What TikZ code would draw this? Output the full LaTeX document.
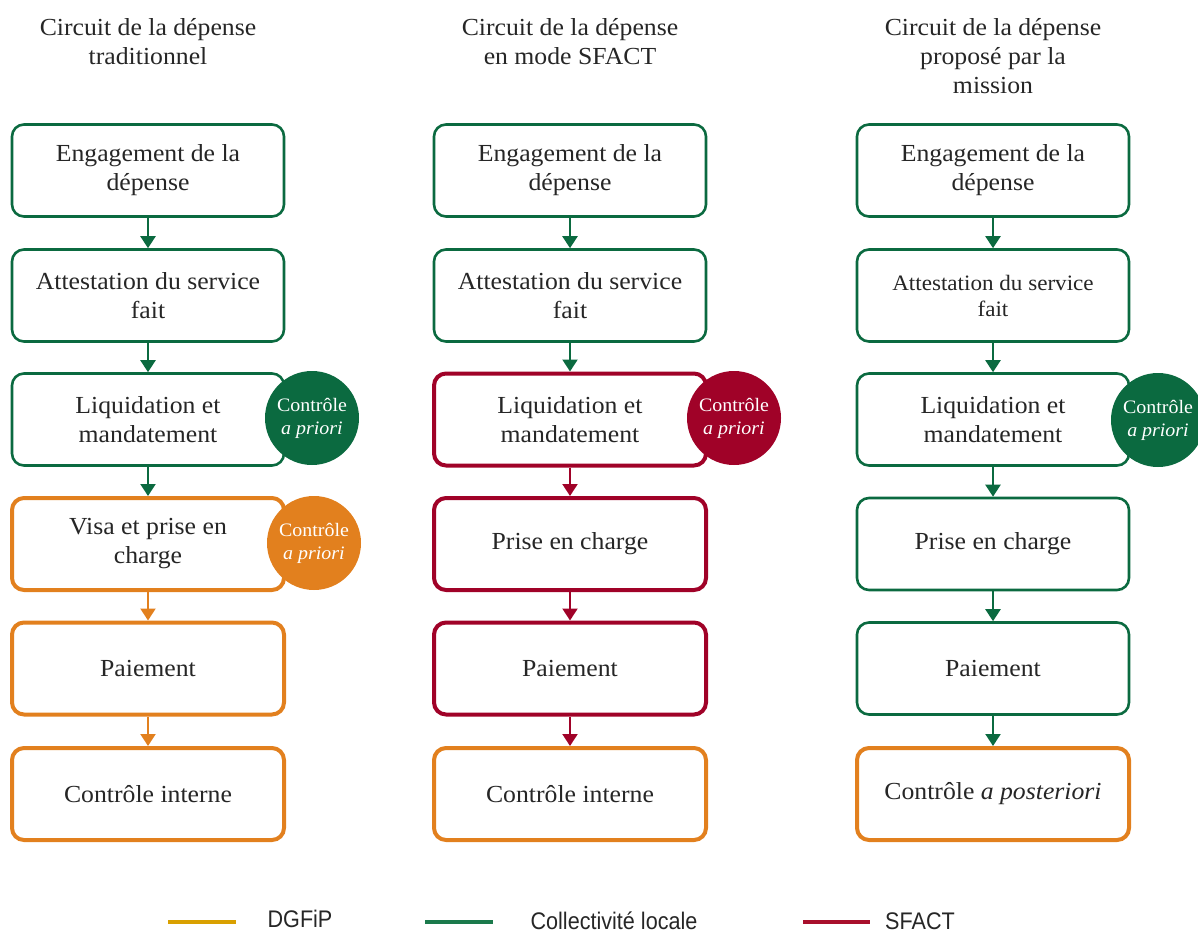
\documentclass[tikz,border=0pt]{standalone}
\usepackage{fontspec}
\setmainfont[FakeStretch=1.05]{Liberation Serif}
\newfontfamily\legfont[FakeStretch=0.9]{Liberation Sans}
\usetikzlibrary{arrows.meta}
\definecolor{cgreen}{HTML}{0B6A40}
\definecolor{corange}{HTML}{E2801E}
\definecolor{cred}{HTML}{A00228}
\definecolor{lgold}{HTML}{D9A000}
\definecolor{lgreen}{HTML}{1B7A4C}
\definecolor{lred}{HTML}{A80F2C}
\definecolor{ctext}{HTML}{262626}
\tikzset{
  boxbase/.style={draw, rounded corners=12pt, minimum width=272pt, minimum height=92pt, fill=white, align=center, font=\fontsize{24.5}{29}\selectfont, text=ctext},
  gbox/.style={boxbase, draw=cgreen, line width=2.6pt},
  obox/.style={boxbase, draw=corange, line width=4pt},
  rbox/.style={boxbase, draw=cred, line width=4pt},
  ctl/.style={circle, minimum size=94pt, inner sep=0pt, align=center, text=white, font=\fontsize{19}{23}\selectfont},
  title/.style={align=center, font=\fontsize{24.5}{29}\selectfont, text=ctext},
  arr/.style={line width=2.2pt, -{Triangle[length=12pt,width=15pt]}},
  leg/.style={line width=3.5pt},
  legtext/.style={font=\legfont\fontsize{24}{28}\selectfont, text=ctext, inner sep=1pt}
}
\begin{document}
\begin{tikzpicture}[x=1pt,y=-1pt]
\useasboundingbox (0,0) rectangle (1198,936);
% titles
\node[title] (t1) at (148,42) {Circuit de la dépense\\traditionnel};
\node[title] (t2) at (570,42) {Circuit de la dépense\\en mode SFACT};
\node[title] (t3) at (993,56) {Circuit de la dépense\\proposé par la\\mission};
% column 1
\node[gbox] (a1) at (148,170.5) {Engagement de la\\dépense};
\node[gbox] (a2) at (148,295.5) {Attestation du service\\fait};
\node[gbox] (a3) at (148,419.5) {Liquidation et\\mandatement};
\node[obox] (a4) at (148,544) {Visa et prise en\\charge};
\node[obox] (a5) at (148,668.5) {Paiement};
\node[obox] (a6) at (148,794) {Contrôle interne};
\node[ctl, fill=cgreen] (ca3) at (312,418) {Contrôle\\\textit{a priori}};
\node[ctl, fill=corange] (ca4) at (314,543) {Contrôle\\\textit{a priori}};
\draw[arr, cgreen] (a1) -- (a2);
\draw[arr, cgreen] (a2) -- (a3);
\draw[arr, cgreen] (a3) -- (a4);
\draw[arr, corange] (a4) -- (a5);
\draw[arr, corange] (a5) -- (a6);
% column 2
\node[gbox] (b1) at (570,170.5) {Engagement de la\\dépense};
\node[gbox] (b2) at (570,295.5) {Attestation du service\\fait};
\node[rbox] (b3) at (570,419.5) {Liquidation et\\mandatement};
\node[rbox] (b4) at (570,544) {Prise en charge};
\node[rbox] (b5) at (570,668.5) {Paiement};
\node[obox] (b6) at (570,794) {Contrôle interne};
\node[ctl, fill=cred] (cb3) at (734,418) {Contrôle\\\textit{a priori}};
\draw[arr, cgreen] (b1) -- (b2);
\draw[arr, cgreen] (b2) -- (b3);
\draw[arr, cred] (b3) -- (b4);
\draw[arr, cred] (b4) -- (b5);
\draw[arr, cred] (b5) -- (b6);
% column 3
\node[gbox] (c1) at (993,170.5) {Engagement de la\\dépense};
\node[gbox, font=\fontsize{22}{26}\selectfont] (c2) at (993,295.5) {Attestation du service\\fait};
\node[gbox] (c3) at (993,419.5) {Liquidation et\\mandatement};
\node[gbox] (c4) at (993,544) {Prise en charge};
\node[gbox] (c5) at (993,668.5) {Paiement};
\node[obox] (c6) at (993,794) {Contrôle \textit{a posteriori}};
\node[ctl, fill=cgreen] (cc3) at (1158,420) {Contrôle\\\textit{a priori}};
\draw[arr, cgreen] (c1) -- (c2);
\draw[arr, cgreen] (c2) -- (c3);
\draw[arr, cgreen] (c3) -- (c4);
\draw[arr, cgreen] (c4) -- (c5);
\draw[arr, cgreen] (c5) -- (c6);
% legend
\coordinate (l1a) at (168,922); \coordinate (l1b) at (236,922);
\coordinate (l2a) at (425,922); \coordinate (l2b) at (493,922);
\coordinate (l3a) at (803,922); \coordinate (l3b) at (870,922);
\draw[leg, lgold] (l1a) -- (l1b);
\draw[leg, lgreen] (l2a) -- (l2b);
\draw[leg, lred] (l3a) -- (l3b);
\node[legtext] (g1) at (300,919) {DGFiP};
\node[legtext] (g2) at (614,921) {Collectivité locale};
\node[legtext] (g3) at (920,921) {SFACT};
\end{tikzpicture}
\end{document}
